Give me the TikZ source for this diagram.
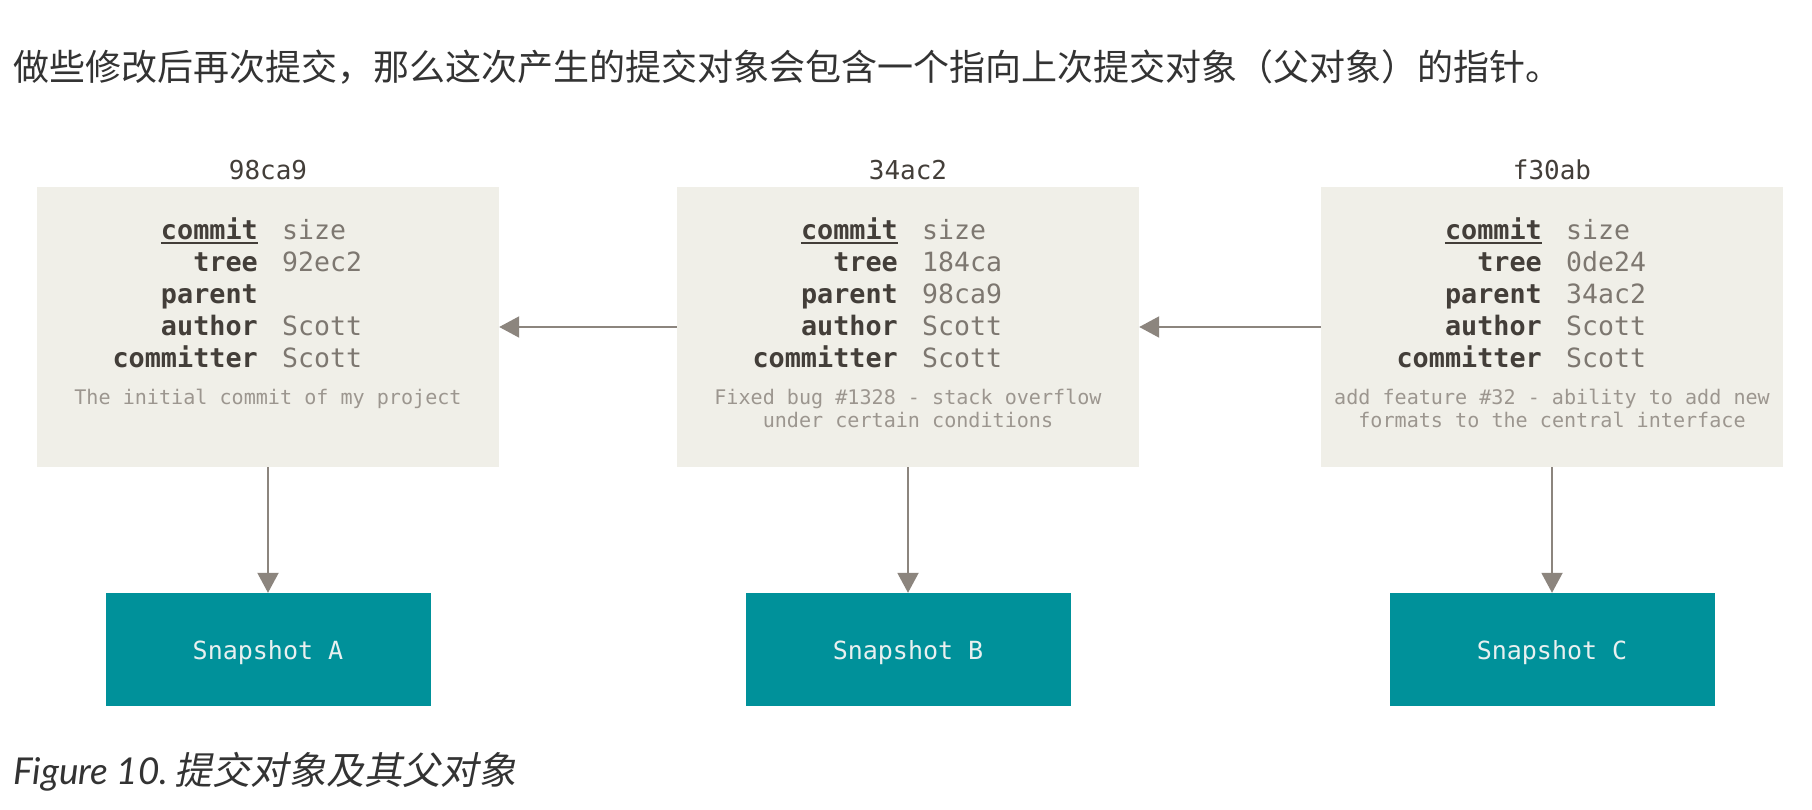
\documentclass[tikz,border=0pt]{standalone}
\usepackage{fontspec}
\setmonofont{DejaVu Sans Mono}
\newfontfamily\cjk{Noto Sans CJK SC}
\newfontfamily\cjkit[FakeSlant=0.2]{Noto Sans CJK SC}
\newfontfamily\capfont{Lato}
\usetikzlibrary{arrows.meta}
\definecolor{boxfill}{HTML}{F0EFE8}
\definecolor{keycol}{HTML}{433E39}
\definecolor{valcol}{HTML}{7D7770}
\definecolor{msgcol}{HTML}{9C968F}
\definecolor{arrcol}{HTML}{8C857E}
\definecolor{teal}{HTML}{00919A}
\definecolor{snaptext}{HTML}{E8F0F0}
\definecolor{bodytext}{HTML}{333333}
\newcommand\commitbox[4]{%
  \node[cbox] (#1) at (#2,327) {};
  \node[hashlbl] (#1-hash) at (#2,180) {#3};
  \node[keylbl] (#1-k1) at (#2-10,240) {commit};
  \node[keylbl] (#1-k2) at (#2-10,271.75) {tree};
  \node[keylbl] (#1-k3) at (#2-10,303.5) {parent};
  \node[keylbl] (#1-k4) at (#2-10,335.25) {author};
  \node[keylbl] (#1-k5) at (#2-10,367) {committer};
  \node[vallbl] (#1-v1) at (#2+14,240) {size};
  \node[vallbl] (#1-v2) at (#2+14,271.75) {#4};
  \node[vallbl] (#1-v4) at (#2+14,335.25) {Scott};
  \node[vallbl] (#1-v5) at (#2+14,367) {Scott};
  \draw[keyline] ([yshift=-3pt]#1-k1.base west) -- ([yshift=-3pt]#1-k1.base east);
}
\begin{document}
\begin{tikzpicture}[x=1pt,y=-1pt,
  cbox/.style={fill=boxfill,draw=none,minimum width=462pt,minimum height=280pt,inner sep=0pt},
  snap/.style={fill=teal,draw=teal,minimum width=324pt,minimum height=112pt,inner sep=0pt},
  snaplbl/.style={inner sep=0pt,anchor=base,text=snaptext,font=\ttfamily\fontsize{25}{30}\selectfont},
  hashlbl/.style={inner sep=0pt,anchor=base,text=keycol,font=\ttfamily\fontsize{26}{31}\selectfont},
  keylbl/.style={inner sep=0pt,anchor=base east,text=keycol,font=\ttfamily\bfseries\fontsize{26.8}{31}\selectfont},
  vallbl/.style={inner sep=0pt,anchor=base west,text=valcol,font=\ttfamily\fontsize{26.5}{31}\selectfont},
  msglbl/.style={inner sep=0pt,anchor=base,text=msgcol,font=\ttfamily\fontsize{20.1}{23}\selectfont},
  keyline/.style={draw=keycol,line width=2pt},
  arr/.style={draw=arrcol,line width=2pt,-{Triangle[length=20pt,width=21pt]}},
  ]
\useasboundingbox[fill=white] (0,0) rectangle (1812,810);
\node[inner sep=0pt,anchor=base west,text=bodytext,font=\cjk\fontsize{36}{40}\selectfont] (intro) at (13,81)
  {做些修改后再次提交，那么这次产生的提交对象会包含一个指向上次提交对象（父对象）的指针。};

\commitbox{c1}{268}{98ca9}{92ec2}
\commitbox{c2}{908}{34ac2}{184ca}
\commitbox{c3}{1552}{f30ab}{0de24}
\node[vallbl] (c2-v3) at (922,303.5) {98ca9};
\node[vallbl] (c3-v3) at (1566,303.5) {34ac2};

\node[msglbl] (c1-m1) at (268,404) {The initial commit of my project};
\node[msglbl] (c2-m1) at (908,404) {Fixed bug \#1328 - stack overflow};
\node[msglbl] (c2-m2) at (908,427) {under certain conditions};
\node[msglbl] (c3-m1) at (1552,404) {add feature \#32 - ability to add new};
\node[msglbl] (c3-m2) at (1552,427) {formats to the central interface};

\node[snap] (s1) at (268,649) {};
\node[snap] (s2) at (908,649) {};
\node[snap] (s3) at (1552,649) {};
\node[snaplbl] (s1-t) at (268,659) {Snapshot A};
\node[snaplbl] (s2-t) at (908,659) {Snapshot B};
\node[snaplbl] (s3-t) at (1552,659) {Snapshot C};

\draw[arr] (c2.west) -- (c1.east);
\draw[arr] (c3.west) -- (c2.east);
\draw[arr] (c1.south) -- (s1.north);
\draw[arr] (c2.south) -- (s2.north);
\draw[arr] (c3.south) -- (s3.north);

\node[inner sep=0pt,anchor=base west,text=bodytext] (cap) at (13,784)
  {\capfont\itshape\fontsize{37}{40}\selectfont Figure 10.\hspace{6pt}{\cjkit\fontsize{38}{40}\selectfont 提交对象及其父对象}};
\end{tikzpicture}
\end{document}
